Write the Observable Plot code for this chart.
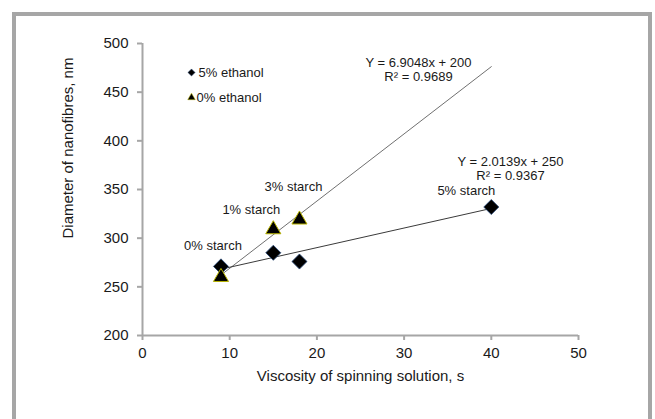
<!DOCTYPE html>
<html>
<head>
<meta charset="utf-8">
<script src="https://cdn.jsdelivr.net/npm/d3@7"></script>
<script src="https://cdn.jsdelivr.net/npm/@observablehq/plot@0.6"></script>
<style>
  html, body { margin: 0; padding: 0; background: #fff; }
  #wrap { position: relative; width: 655px; height: 419px; overflow: hidden; background: #fff; }
  #frame { position: absolute; left: 12px; top: 12px; width: 632px; height: 500px; border: 4px solid #a6a6a6; box-sizing: content-box; }
  #chart { position: absolute; left: 0; top: 0; }
  svg text { font-family: "Liberation Sans", Arial, sans-serif; }
</style>
</head>
<body>
<div id="wrap"><div id="frame"></div><div id="chart"></div></div>
<script>
// ---- data ----
const starchLabels = ["0% starch", "1% starch", "3% starch", "5% starch"];
const viscosity5 = [9, 15, 18, 40];
const diameter5 = [271, 285, 276, 332];       // 5% ethanol (diamonds)
const viscosity0 = [9, 15, 18];
const diameter0 = [260, 309, 319];            // 0% ethanol (triangles)
const seriesNames = ["5% ethanol", "0% ethanol"];
const trendSlopes = [6.9048, 2.0139];
const trendIntercepts = [200, 250];
const trendR2 = ["0.9689", "0.9367"];
const trendRange = [9, 40];
const xTicks = [0, 10, 20, 30, 40, 50];
const yTicks = [200, 250, 300, 350, 400, 450, 500];

// ---- tables ----
const pts5 = viscosity5.map((x, i) => ({x, y: diameter5[i]}));
const pts0 = viscosity0.map((x, i) => ({x, y: diameter0[i]}));
const trends = trendSlopes.map((m, k) => trendRange.map(x => ({x, y: m * x + trendIntercepts[k], k})));

// ---- layout (pixel offsets) ----
const starchAnchors = [pts5[0], pts0[1], pts0[2], pts5[3]];
const starchOffsets = [[-8, -21], [-22, -20], [-6, -33], [-25, -16]];
const eqOffsets = [[276, 19], [368, 118]];

const textColor = "#1a1a1a";
const axisColor = "#a6a6a6";
const fs = 13;

const marks = [
  Plot.ruleY([200], {stroke: axisColor, strokeWidth: 2}),
  Plot.ruleX([0], {stroke: axisColor, strokeWidth: 2}),
  Plot.axisX(xTicks, {tickSize: 5, tickPadding: 7, stroke: axisColor, strokeWidth: 2, fontSize: 15, color: textColor, label: null}),
  Plot.axisY(yTicks, {tickSize: 5, tickPadding: 9, stroke: axisColor, strokeWidth: 2, fontSize: 15, color: textColor, label: null}),
  Plot.text(["Viscosity of spinning solution, s"], {frameAnchor: "bottom", lineAnchor: "middle", dy: 41, fontSize: 15, fill: textColor}),
  Plot.text(["Diameter of nanofibres, nm"], {frameAnchor: "left", lineAnchor: "middle", dx: -74, dy: 49, rotate: -90, fontSize: 15, fill: textColor}),
  ...trends.map((t, k) => Plot.line(t, {x: "x", y: "y", stroke: k === 0 ? "#707070" : "#3a3a3a", strokeWidth: 1})),
  Plot.dot(pts5, {x: "x", y: "y", symbol: "diamond2", r: 6.8, fill: "#000", stroke: "#2a4a7a", strokeWidth: 0.8}),
  Plot.dot(pts0, {x: "x", y: "y", symbol: "triangle", r: 5.6, fill: "#000", stroke: "#b8b400", strokeWidth: 1}),
  ...starchLabels.map((s, i) => Plot.text([s], {x: () => starchAnchors[i].x, y: () => starchAnchors[i].y, dx: starchOffsets[i][0], dy: starchOffsets[i][1], lineAnchor: "middle", fontSize: fs, fill: textColor})),
  ...trendSlopes.map((m, k) => Plot.text([`Y = ${m.toFixed(4)}x + ${trendIntercepts[k]}`], {frameAnchor: "top-left", lineAnchor: "middle", dx: eqOffsets[k][0], dy: eqOffsets[k][1], textAnchor: "middle", fontSize: fs, fill: textColor})),
  ...trendR2.map((r, k) => Plot.text([`R² = ${r}`], {frameAnchor: "top-left", lineAnchor: "middle", dx: eqOffsets[k][0], dy: eqOffsets[k][1] + 14, textAnchor: "middle", fontSize: fs, fill: textColor})),
  // legend
  Plot.dot([seriesNames[0]], {frameAnchor: "top-left", dx: 49, dy: 29, symbol: "diamond2", r: 3.2, fill: "#000", stroke: "#2a4a7a", strokeWidth: 0.5}),
  Plot.dot([seriesNames[1]], {frameAnchor: "top-left", dx: 49, dy: 54, symbol: "triangle", r: 2.8, fill: "#000", stroke: "#b8b400", strokeWidth: 0.5}),
  Plot.text([seriesNames[0]], {frameAnchor: "top-left", lineAnchor: "middle", dx: 56, dy: 29, textAnchor: "start", fontSize: fs, fill: textColor}),
  Plot.text([seriesNames[1]], {frameAnchor: "top-left", lineAnchor: "middle", dx: 54, dy: 54, textAnchor: "start", fontSize: fs, fill: textColor})
];

const chart = Plot.plot({
  width: 655,
  height: 419,
  marginLeft: 142,
  marginRight: 77,
  marginTop: 43,
  marginBottom: 84,
  style: {background: "transparent", fontFamily: "Liberation Sans, Arial, sans-serif"},
  x: {domain: [0, 50]},
  y: {domain: [200, 500]},
  marks
});
document.getElementById("chart").appendChild(chart);
</script>
</body>
</html>
